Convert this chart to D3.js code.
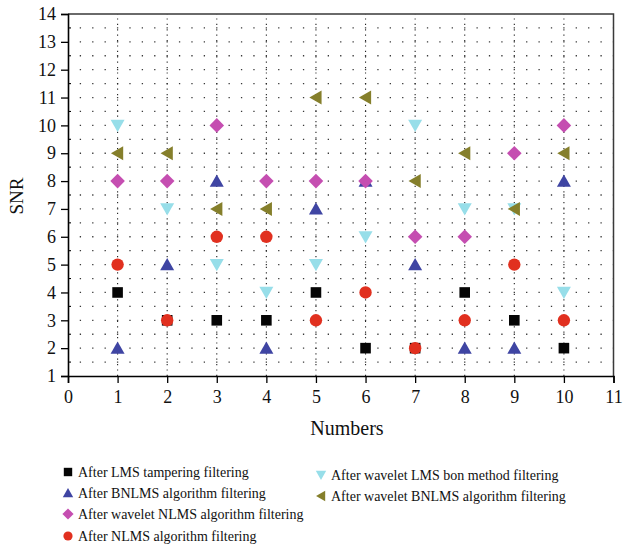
<!DOCTYPE html>
<html>
<head>
<meta charset="utf-8">
<script src="https://cdn.jsdelivr.net/npm/d3@7"></script>
<style>
  html, body { margin: 0; padding: 0; background: #fff; }
  svg { display: block; }
  text { font-family: "Liberation Serif", "Times New Roman", serif; fill: #111; }
</style>
</head>
<body>
<svg id="chart" width="623" height="547"></svg>
<script>
// Test numbers along the x axis
const numbers = [1, 2, 3, 4, 5, 6, 7, 8, 9, 10];

// SNR after each filtering method
const lmsTampering   = [4, 3, 3, 3, 4, 2, 2, 4, 3, 2];
const bnlms          = [2, 5, 8, 2, 7, 8, 5, 2, 2, 8];
const waveletNlms    = [8, 8, 10, 8, 8, 8, 6, 6, 9, 10];
const nlms           = [5, 3, 6, 6, 3, 4, 2, 3, 5, 3];
const waveletLmsBon  = [10, 7, 5, 4, 5, 6, 10, 7, 7, 4];
const waveletBnlms   = [9, 9, 7, 7, 11, 11, 8, 9, 7, 9];

const seriesNames = [
  "After LMS tampering filtering",
  "After BNLMS algorithm filtering",
  "After wavelet NLMS algorithm filtering",
  "After NLMS algorithm filtering",
  "After wavelet LMS bon method filtering",
  "After wavelet BNLMS algorithm filtering"
];

const xTicks = [0, 1, 2, 3, 4, 5, 6, 7, 8, 9, 10, 11];
const yTicks = [1, 2, 3, 4, 5, 6, 7, 8, 9, 10, 11, 12, 13, 14];

// Marker shapes, sized by s (half-width)
const shapes = {
  square: s => `M${-s},${-s}H${s}V${s}H${-s}Z`,
  triUp: s => `M0,${-s * 0.95}L${s},${s * 0.8}L${-s},${s * 0.8}Z`,
  triDown: s => `M0,${s * 0.95}L${s},${-s * 0.8}L${-s},${-s * 0.8}Z`,
  triLeft: s => `M${-s * 0.95},0L${s * 0.8},${-s}L${s * 0.8},${s}Z`,
  diamond: s => `M0,${-s}L${s},0L0,${s}L${-s},0Z`,
  circle: s => `M${s},0A${s},${s} 0 1,1 ${-s},0A${s},${s} 0 1,1 ${s},0Z`
};

const series = [
  { name: seriesNames[0], values: lmsTampering,  shape: "square",  size: 5.3, legendSize: 4.2, color: "#050505" },
  { name: seriesNames[1], values: bnlms,         shape: "triUp",   size: 7,   legendSize: 5.2, color: "#3f45a3" },
  { name: seriesNames[2], values: waveletNlms,   shape: "diamond", size: 7.3, legendSize: 5.6, color: "#c54eb1" },
  { name: seriesNames[3], values: nlms,          shape: "circle",  size: 6.2, legendSize: 4.6, color: "#e1301f" },
  { name: seriesNames[4], values: waveletLmsBon, shape: "triDown", size: 7,   legendSize: 5.2, color: "#97dee9" },
  { name: seriesNames[5], values: waveletBnlms,  shape: "triLeft", size: 7,   legendSize: 5.2, color: "#857f2b" }
];

const svg = d3.select("#chart");
const plotLeft = 68, plotRight = 613.5, plotTop = 14, plotBottom = 376;

const x = d3.scaleLinear().domain([0, 11]).range([plotLeft, plotRight]);
const y = d3.scaleLinear().domain([1, 14]).range([plotBottom, plotTop]);

// Dotted grid: horizontal rows every half unit, dots every quarter unit
const grid = svg.append("g");
const quarter = x(0.25) - x(0);
const halfRows = d3.range(1.5, 14, 0.5);
grid.selectAll("line.h").data(halfRows).enter().append("line")
  .attr("x1", x(0)).attr("x2", x(11))
  .attr("y1", d => y(d)).attr("y2", d => y(d))
  .attr("stroke", "#3a3a3a").attr("stroke-width", 1.3)
  .attr("stroke-dasharray", `1.3,${quarter - 1.3}`)
  .attr("stroke-dashoffset", -(quarter - 0.65));

// Vertical dotted lines at every integer number
grid.selectAll("line.v").data(numbers).enter().append("line")
  .attr("x1", d => x(d)).attr("x2", d => x(d))
  .attr("y1", y(1)).attr("y2", y(14))
  .attr("stroke", "#222").attr("stroke-width", 1.1)
  .attr("stroke-dasharray", "1.2,4.2");

// Frame (top and right)
svg.append("path")
  .attr("d", `M${x(0)},${y(14)}H${x(11)}V${y(1)}`)
  .attr("fill", "none").attr("stroke", "#3a3a3a").attr("stroke-width", 1.5);

// Axes
const xAxis = svg.append("g").attr("transform", `translate(0,${plotBottom})`)
  .call(d3.axisBottom(x).tickValues(xTicks).tickSize(7).tickPadding(7).tickFormat(d3.format("d")));
const yAxis = svg.append("g").attr("transform", `translate(${plotLeft},0)`)
  .call(d3.axisLeft(y).tickValues(yTicks).tickSize(7).tickPadding(5).tickFormat(d3.format("d")));
[xAxis, yAxis].forEach(a => {
  a.select(".domain").attr("stroke", "#000").attr("stroke-width", 1.6);
  a.selectAll(".tick line").attr("stroke", "#000").attr("stroke-width", 1.3);
  a.selectAll(".tick text")
    .style("font-family", "'Liberation Serif', serif")
    .style("font-size", "18px").attr("fill", "#111");
});

// Minor inner ticks on the y axis at half units
svg.append("g").selectAll("line").data(halfRows.filter(d => d % 1 !== 0)).enter().append("line")
  .attr("x1", plotLeft).attr("x2", plotLeft + 3)
  .attr("y1", d => y(d)).attr("y2", d => y(d))
  .attr("stroke", "#000").attr("stroke-width", 1.1);

// Axis titles
svg.append("text")
  .attr("x", 347).attr("y", 435)
  .attr("text-anchor", "middle")
  .style("font-size", "20px")
  .text("Numbers");
svg.append("text")
  .attr("transform", `translate(23,196) rotate(-90)`)
  .attr("text-anchor", "middle")
  .style("font-size", "19px")
  .text("SNR");

// Markers
const marks = svg.append("g");
series.forEach(s => {
  marks.append("g").selectAll("path")
    .data(numbers.map((n, i) => ({ n, v: s.values[i] })))
    .enter().append("path")
    .attr("transform", d => `translate(${x(d.n)},${y(d.v)})`)
    .attr("d", shapes[s.shape](s.size))
    .attr("fill", s.color);
});

// Legend in two columns
const legendPos = [
  { lx: 68, ty: 472 }, { lx: 68, ty: 493 }, { lx: 68, ty: 514 }, { lx: 68, ty: 536 },
  { lx: 321, ty: 475 }, { lx: 321, ty: 496 }
];
const legend = svg.append("g");
series.forEach((s, i) => {
  const p = legendPos[i];
  legend.append("path")
    .attr("transform", `translate(${p.lx},${p.ty})`)
    .attr("d", shapes[s.shape](s.legendSize))
    .attr("fill", s.color);
  legend.append("text")
    .attr("x", p.lx + 10).attr("y", p.ty + 5)
    .style("font-size", "14px")
    .text(s.name);
});
</script>
</body>
</html>
